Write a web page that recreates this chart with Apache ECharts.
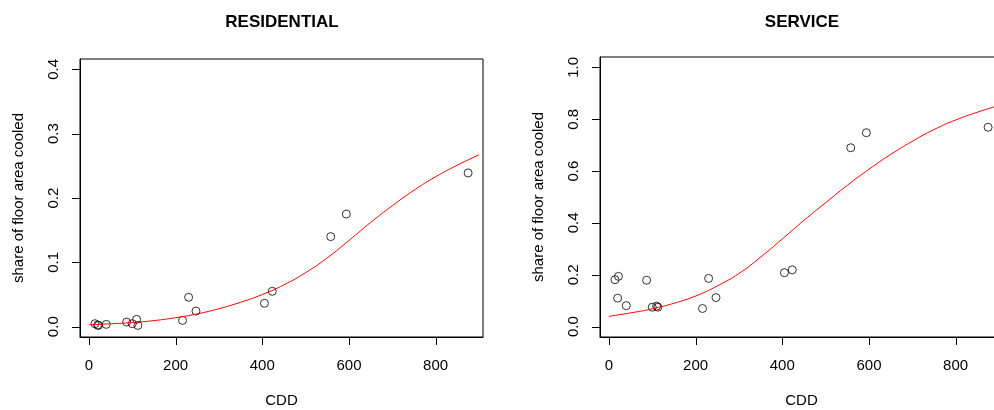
<!DOCTYPE html>
<html>
<head>
<meta charset="utf-8">
<script src="https://cdn.jsdelivr.net/npm/echarts@6/dist/echarts.min.js"></script>
<style>
  html, body { margin: 0; padding: 0; background: #fff; }
  #Echarts1 { width: 994px; height: 410px; }
</style>
</head>
<body>
<div id="Echarts1"></div>
<script>
'use strict';
// observed points, shared CDD for both panels
var cdd = [14, 20, 22, 40, 87, 100, 110, 113, 216, 230, 247, 405, 423, 558, 594, 875];
var resShare = [0.0047, 0.0025, 0.002, 0.0036, 0.0072, 0.0047, 0.0114, 0.002, 0.0098, 0.0457, 0.0243, 0.0364, 0.055, 0.14, 0.175, 0.239];
var servShare = [0.181, 0.11, 0.194, 0.081, 0.179, 0.075, 0.079, 0.075, 0.070, 0.186, 0.112, 0.208, 0.219, 0.69, 0.748, 0.769];

// fitted curves
var curveCdd = [0, 50, 100, 150, 200, 250, 300, 350, 400, 450, 500, 550, 600, 650, 700, 750, 800, 850, 900];
var resCurve = [0.003, 0.0045, 0.0065, 0.0095, 0.014, 0.020, 0.028, 0.038, 0.050, 0.065, 0.084, 0.107, 0.134, 0.162, 0.188, 0.212, 0.233, 0.251, 0.267];
var servCurve = [0.040, 0.053, 0.069, 0.090, 0.118, 0.157, 0.205, 0.268, 0.338, 0.410, 0.478, 0.545, 0.607, 0.664, 0.715, 0.760, 0.797, 0.827, 0.853];

// tick labels
var xTicks = [0, 200, 400, 600, 800];
var resTicks = [0, 0.1, 0.2, 0.3, 0.4];
var servTicks = [0, 0.2, 0.4, 0.6, 0.8, 1.0];

var FONT = '"Liberation Sans", Arial, Helvetica, sans-serif';
var myChart1 = echarts.init(document.getElementById('Echarts1'));

var X_MIN = -20.6, X_MAX = 909.3;
var boxes = [
    { left: 80, top: 59, width: 403, height: 278, yTop: 0.4, ticks: resTicks },
    { left: 600, top: 57, width: 403, height: 280, yTop: 1.0, ticks: servTicks }
];

function pairs(xs, ys) {
    return xs.map(function (x, i) { return [x, ys[i]]; });
}

function xAxisOf(gridIndex) {
    return {
        type: 'value',
        gridIndex: gridIndex,
        min: X_MIN,
        max: X_MAX,
        name: 'CDD',
        nameLocation: 'middle',
        nameGap: 56,
        nameTextStyle: { color: '#000', fontSize: 15, fontFamily: FONT },
        splitLine: { show: false },
        axisLine: { show: true, onZero: false, lineStyle: { color: '#000', width: 1 } },
        axisTick: { show: false },
        axisLabel: { show: true, margin: 21, customValues: xTicks, color: '#000', fontSize: 15, fontFamily: FONT }
    };
}

function yAxisOf(gridIndex, top, ticks) {
    return {
        type: 'value',
        gridIndex: gridIndex,
        min: -top * 0.04,
        max: top * 1.04,
        name: 'share of floor area cooled',
        nameLocation: 'middle',
        nameGap: 54,
        nameTextStyle: { color: '#000', fontSize: 15, fontFamily: FONT },
        splitLine: { show: false },
        axisLine: { show: true, onZero: false, lineStyle: { color: '#000', width: 1 } },
        axisTick: { show: false },
        axisLabel: {
            show: true, rotate: 90, margin: 19, customValues: ticks,
            color: '#000', fontSize: 15, fontFamily: FONT,
            formatter: function (v) { return Number(v).toFixed(1); }
        }
    };
}

function pointSeries(idx, data) {
    return {
        type: 'scatter',
        xAxisIndex: idx, yAxisIndex: idx,
        symbol: 'circle', symbolSize: 8,
        itemStyle: { color: 'rgba(0,0,0,0)', borderColor: '#000', borderWidth: 1 },
        silent: true,
        data: data
    };
}

function curveSeries(idx, data) {
    return {
        type: 'line',
        xAxisIndex: idx, yAxisIndex: idx,
        smooth: true, showSymbol: false,
        lineStyle: { color: '#ff0000', width: 1 },
        silent: true,
        data: data
    };
}

// title texts + outward tick marks (thin filled rects) along the box edges
var graphics = [
    { type: 'text', x: 282, y: 22, style: { text: 'RESIDENTIAL', fill: '#000', font: 'bold 17px ' + FONT, textAlign: 'center', textVerticalAlign: 'middle' } },
    { type: 'text', x: 802, y: 22, style: { text: 'SERVICE', fill: '#000', font: 'bold 17px ' + FONT, textAlign: 'center', textVerticalAlign: 'middle' } }
];
boxes.forEach(function (b) {
    var yMin = -b.yTop * 0.04, yMax = b.yTop * 1.04;
    var bottom = b.top + b.height;
    xTicks.forEach(function (v) {
        var x = Math.round(b.left + (v - X_MIN) / (X_MAX - X_MIN) * b.width);
        graphics.push({ type: 'rect', z: 100, silent: true, shape: { x: x, y: bottom, width: 1, height: 8 }, style: { fill: '#000' } });
    });
    b.ticks.forEach(function (v) {
        var y = Math.round(bottom - (v - yMin) / (yMax - yMin) * b.height);
        graphics.push({ type: 'rect', z: 100, silent: true, shape: { x: b.left - 8, y: y, width: 8, height: 1 }, style: { fill: '#000' } });
    });
});

var option = {
    animation: false,
    backgroundColor: '#fff',
    graphic: { elements: graphics },
    grid: boxes.map(function (b) {
        return { left: b.left, top: b.top, width: b.width, height: b.height, containLabel: false, outerBoundsMode: 'none', show: true, borderColor: '#000', borderWidth: 1, backgroundColor: 'transparent' };
    }),
    xAxis: [xAxisOf(0), xAxisOf(1)],
    yAxis: [yAxisOf(0, 0.4, resTicks), yAxisOf(1, 1.0, servTicks)],
    series: [
        curveSeries(0, pairs(curveCdd, resCurve)),
        pointSeries(0, pairs(cdd, resShare)),
        curveSeries(1, pairs(curveCdd, servCurve)),
        pointSeries(1, pairs(cdd, servShare))
    ]
};
myChart1.setOption(option);
</script>
</body>
</html>
